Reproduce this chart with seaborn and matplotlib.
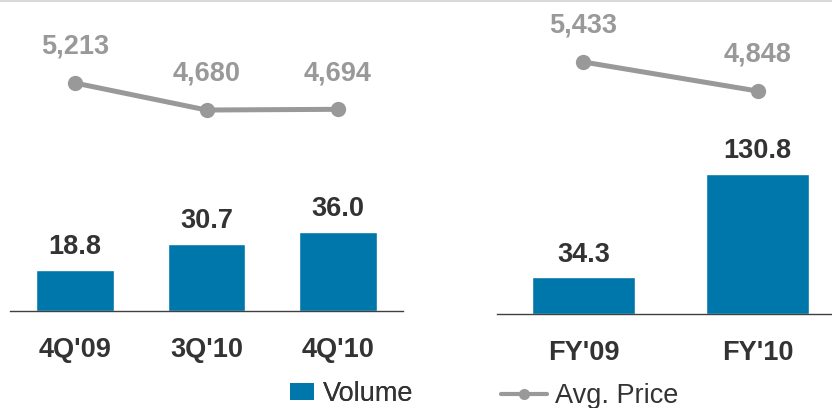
import numpy as np
import pandas as pd
import matplotlib
matplotlib.use("Agg")
import matplotlib.pyplot as plt
from matplotlib.patches import Patch
from matplotlib.lines import Line2D
import seaborn as sns

# ---- data ----
q_categories = ["4Q'09", "3Q'10", "4Q'10"]
q_volume = [18.8, 30.7, 36.0]
q_price = [5213, 4680, 4694]

fy_categories = ["FY'09", "FY'10"]
fy_volume = [34.3, 130.8]
fy_price = [5433, 4848]

BAR_COLOR = "#0077AA"
LINE_COLOR = "#999999"
DARK = "#333333"
FS = 19.5

sns.set_theme(style="white")
plt.rcParams["font.family"] = ["Liberation Sans", "DejaVu Sans"]

W, H = 832, 408
fig = plt.figure(figsize=(W / 100, H / 100), dpi=100)


def panel(rect, cats, vols, prices, bar_ylim, line_ylim, xlim):
    ax = fig.add_axes(rect)
    df = pd.DataFrame({"cat": cats, "vol": vols})
    sns.barplot(data=df, x="cat", y="vol", ax=ax, color=BAR_COLOR,
                saturation=1, width=0.59)
    ax.set_ylim(*bar_ylim)
    ax.set_xlim(*xlim)
    ax.set_xlabel("")
    ax.set_ylabel("")
    ax.set_yticks([])
    for s in ["top", "left", "right"]:
        ax.spines[s].set_visible(False)
    ax.spines["bottom"].set_color("#404040")
    ax.spines["bottom"].set_linewidth(1.0)
    ax.tick_params(axis="x", length=0, pad=19)
    for lab in ax.get_xticklabels():
        lab.set_fontsize(FS)
        lab.set_fontweight("bold")
        lab.set_color(DARK)
    for i, v in enumerate(vols):
        ax.annotate(f"{v:.1f}", (i, v), xytext=(0, 7), textcoords="offset points",
                    ha="center", va="bottom", fontsize=FS, fontweight="bold",
                    color=DARK)

    ax2 = ax.twinx()
    xs = np.arange(len(prices))
    sns.lineplot(x=xs, y=prices, ax=ax2, color=LINE_COLOR, linewidth=3.6,
                 marker="o", markersize=11, markeredgewidth=0)
    ax2.set_ylim(*line_ylim)
    ax2.set_xlim(*xlim)
    ax2.set_yticks([])
    ax2.set_ylabel("")
    for s in ax2.spines.values():
        s.set_visible(False)
    for i, p in enumerate(prices):
        ax2.annotate(f"{p:,}", (i, p), xytext=(0, 26), textcoords="offset points",
                     ha="center", va="center", fontsize=FS, fontweight="bold",
                     color=LINE_COLOR)
    return ax


panel([10 / W, 1 - 311 / H, 393 / W, 311 / H], q_categories, q_volume, q_price,
      (0, 142), (716, 6850), (-0.494, 2.494))
panel([497 / W, 1 - 314 / H, 335 / W, 314 / H], fy_categories, fy_volume, fy_price,
      (0, 293), (352, 6683), (-0.497, 1.428))

# top rule
fig.add_artist(Line2D([0, 1], [1 - 1.2 / H, 1 - 1.2 / H], transform=fig.transFigure,
                      color="#D9D9D9", linewidth=1.5))

# legends
leg1 = fig.legend(handles=[Patch(facecolor=BAR_COLOR, edgecolor="none", label="Volume")],
                  loc="center left", bbox_to_anchor=(290 / W, 1 - 394 / H),
                  frameon=False, fontsize=FS, handlelength=0.9, handleheight=0.62,
                  handletextpad=0.3, borderpad=0, borderaxespad=0)
for t in leg1.get_texts():
    t.set_color(DARK)
leg2 = fig.legend(handles=[Line2D([], [], color=LINE_COLOR, linewidth=3, marker="o",
                                  markersize=8, markeredgewidth=0, label="Avg. Price")],
                  loc="center left", bbox_to_anchor=(501 / W, 1 - 396 / H),
                  frameon=False, fontsize=FS, handlelength=1.68,
                  handletextpad=0.33, borderpad=0, borderaxespad=0)
for t in leg2.get_texts():
    t.set_color(DARK)
fig.add_artist(leg1)

fig.savefig("out.png", dpi=100)
